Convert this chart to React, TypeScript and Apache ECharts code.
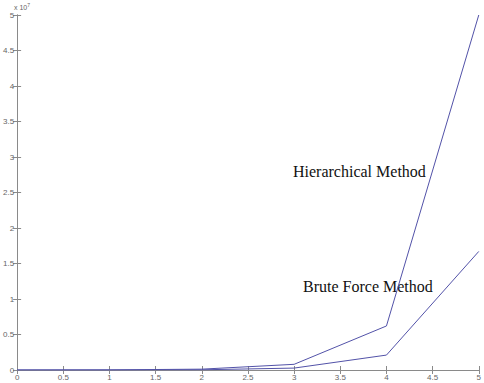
import React, { useEffect, useRef } from "react";
import * as echarts from "echarts";

const xValues = [0, 1, 2, 3, 4, 5];
const hierarchical = [0.0002, 0.0015, 0.012, 0.08, 0.62, 5.0];
const bruteForce = [0.0001, 0.0005, 0.003, 0.027, 0.21, 1.67];
const scaleLabel = "x 10";
const scaleExp = "7";
const labelHier = "Hierarchical Method";
const labelBrute = "Brute Force Method";

const axisColor = "#8a8a8a";
const lineColor = "#5252a8";

export default function App() {
  const ref = useRef<HTMLDivElement>(null);
  useEffect(() => {
    if (!ref.current) return;
    const chart = echarts.init(ref.current, null, { renderer: "svg" });
    const axisCommon = {
      min: 0,
      max: 5,
      interval: 0.5,
      axisLine: { show: true, lineStyle: { color: axisColor, width: 1 } },
      axisTick: { show: true, inside: true, length: 4, lineStyle: { color: axisColor } },
      splitLine: { show: false },
    };
    const labelStyle = { color: "#666", fontSize: 8, fontFamily: "Liberation Sans" };
    chart.setOption({
      animation: false,
      backgroundColor: "#fff",
      grid: { left: 13, right: 3, top: 15, bottom: 13, containLabel: false },
      xAxis: [
        {
          type: "value",
          position: "bottom",
          ...axisCommon,
          axisLabel: { ...labelStyle, margin: 3, showMinLabel: true, showMaxLabel: true },
        },
        {
          type: "value",
          position: "top",
          ...axisCommon,
          axisLabel: { show: false },
        },
      ],
      yAxis: [
        {
          type: "value",
          position: "left",
          ...axisCommon,
          axisLabel: { ...labelStyle, margin: 3 },
        },
        {
          type: "value",
          position: "right",
          ...axisCommon,
          axisLabel: { show: false },
        },
      ],
      series: [
        {
          type: "line",
          data: xValues.map((x, i) => [x, hierarchical[i]]),
          symbol: "none",
          lineStyle: { color: lineColor, width: 1 },
          itemStyle: { color: lineColor },
        },
        {
          type: "line",
          data: xValues.map((x, i) => [x, bruteForce[i]]),
          symbol: "none",
          lineStyle: { color: lineColor, width: 1 },
          itemStyle: { color: lineColor },
        },
      ],
      graphic: [
        {
          type: "text",
          left: 14,
          top: 2,
          style: {
            text: `{a|${scaleLabel}}{b|${scaleExp}}`,
            rich: {
              a: { fontSize: 7, fill: "#666", fontFamily: "Liberation Sans", verticalAlign: "bottom" },
              b: { fontSize: 5, fill: "#666", fontFamily: "Liberation Sans", verticalAlign: "top", padding: [0, 0, 4, 0] },
            },
          },
        },
        {
          type: "text",
          left: 293,
          top: 163,
          style: { text: labelHier, fontSize: 16, fill: "#111", fontFamily: "Liberation Serif" },
        },
        {
          type: "text",
          left: 303,
          top: 278,
          style: { text: labelBrute, fontSize: 16, fill: "#111", fontFamily: "Liberation Serif" },
        },
      ],
    });
    return () => chart.dispose();
  }, []);
  return (
    <div
      ref={ref}
      style={{ position: "fixed", left: 0, top: 0, width: 484, height: 383 }}
    />
  );
}
